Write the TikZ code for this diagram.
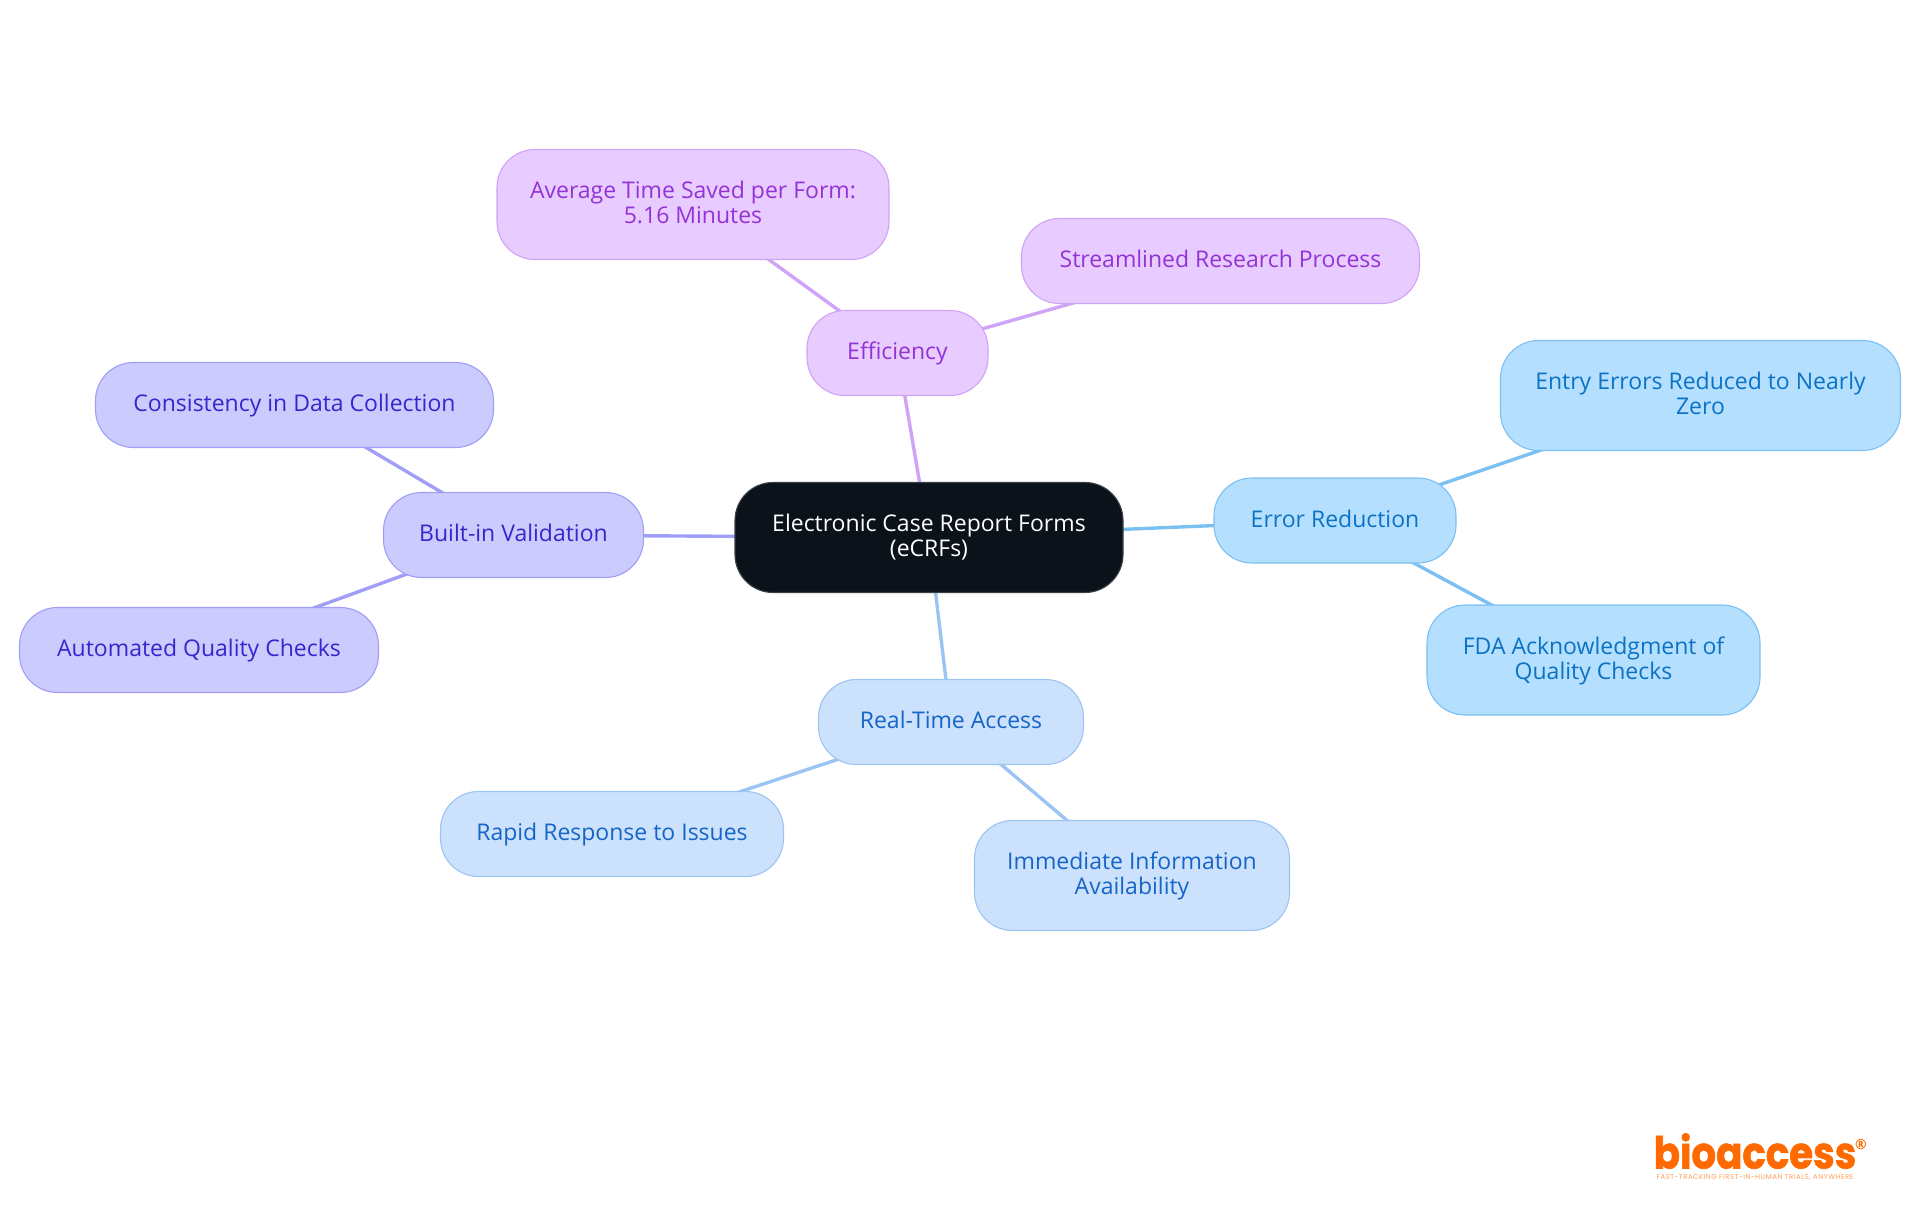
\documentclass[tikz,border=0pt]{standalone}
\usepackage{fontspec}
\setmainfont{Open Sans}
\newfontfamily\logofont[BoldFeatures={FakeBold=1.5}]{Poppins}
\newfontfamily\tagfont[LetterSpace=7]{Poppins}
\usetikzlibrary{backgrounds}
\definecolor{rootfill}{HTML}{0B1219}
\definecolor{rootline}{HTML}{3A4048}
\definecolor{pfill}{HTML}{E8CBFF}
\definecolor{pline}{HTML}{CFA3F5}
\definecolor{ptext}{HTML}{9333D6}
\definecolor{bfill}{HTML}{B5DFFF}
\definecolor{bline}{HTML}{7CC0F2}
\definecolor{btext}{HTML}{0B72C4}
\definecolor{lfill}{HTML}{CCE2FC}
\definecolor{lline}{HTML}{9CC4F2}
\definecolor{ltext}{HTML}{1565C8}
\definecolor{ifill}{HTML}{CBCBFD}
\definecolor{iline}{HTML}{A09EF6}
\definecolor{itext}{HTML}{3527CC}
\definecolor{logoor}{HTML}{FF6A00}
\newcommand\tstrut{\rule[-6pt]{0pt}{25pt}}
\tikzset{
  mm/.style={rectangle,rounded corners=38pt,inner sep=0pt,line width=1.1pt,align=center,
    font=\fontsize{23}{25}\selectfont},
  rootnode/.style={mm,fill=rootfill,draw=rootline,text=white},
  pnode/.style={mm,fill=pfill,draw=pline,text=ptext},
  bnode/.style={mm,fill=bfill,draw=bline,text=btext},
  lnode/.style={mm,fill=lfill,draw=lline,text=ltext},
  inode/.style={mm,fill=ifill,draw=iline,text=itext},
  conn/.style={line width=3.4pt},
  box/.style 2 args={minimum width=#1pt,minimum height=#2pt},
}
\begin{document}
\begin{tikzpicture}[x=1pt,y=-1pt]
\useasboundingbox (0,0) rectangle (1920,1215);
\node[rootnode,box={388}{110}] (root) at (929,537.5) {Electronic Case Report Forms\tstrut\\(eCRFs)\tstrut};
\node[pnode,box={181}{85}] (eff) at (897.5,353) {Efficiency\tstrut};
\node[pnode,box={392}{110}] (avg) at (693,204.5) {Average Time Saved per Form:\tstrut\\5.16 Minutes\tstrut};
\node[pnode,box={398}{85}] (str) at (1220.5,261) {Streamlined Research Process\tstrut};
\node[inode,box={260}{85}] (val) at (513.5,535) {Built-in Validation\tstrut};
\node[inode,box={398}{85}] (con) at (294.5,405) {Consistency in Data Collection\tstrut};
\node[inode,box={359}{85}] (aut) at (199,650) {Automated Quality Checks\tstrut};
\node[bnode,box={242}{85}] (err) at (1335,520.5) {Error Reduction\tstrut};
\node[bnode,box={400}{110}] (ent) at (1700.5,395.5) {Entry Errors Reduced to Nearly\tstrut\\Zero\tstrut};
\node[bnode,box={333}{110}] (fda) at (1593.5,660) {FDA Acknowledgment of\tstrut\\Quality Checks\tstrut};
\node[lnode,box={265}{85}] (rta) at (951,722) {Real-Time Access\tstrut};
\node[lnode,box={343}{85}] (rap) at (612,834) {Rapid Response to Issues\tstrut};
\node[lnode,box={315}{110}] (imm) at (1132,875.5) {Immediate Information\tstrut\\Availability\tstrut};
\begin{scope}[on background layer]
\draw[conn,pline] (root.center) -- (eff.center);
\draw[conn,pline] (eff.center) -- (avg.center);
\draw[conn,pline] (eff.center) -- (str.center);
\draw[conn,iline] (root.center) -- (val.center);
\draw[conn,iline] (val.center) -- (con.center);
\draw[conn,iline] (val.center) -- (aut.center);
\draw[conn,bline] (root.center) -- (err.center);
\draw[conn,bline] (err.center) -- (ent.center);
\draw[conn,bline] (err.center) -- (fda.center);
\draw[conn,lline] (root.center) -- (rta.center);
\draw[conn,lline] (rta.center) -- (rap.center);
\draw[conn,lline] (rta.center) -- (imm.center);
\end{scope}
\node[inner sep=0pt,text=logoor,transform shape,xscale=.88,font=\logofont\bfseries\fontsize{44}{44}\selectfont] (logo) at (1755,1151) {bioaccess};
\node[inner sep=0pt,text=logoor,font=\bfseries\fontsize{14}{14}\selectfont] (reg) at (1861,1144) {®};
\node[inner sep=0pt,text=logoor!65,font=\tagfont\fontsize{7}{7}\selectfont] (tag) at (1755,1178) {FAST-TRACKING FIRST-IN-HUMAN TRIALS, ANYWHERE};
\end{tikzpicture}
\end{document}
